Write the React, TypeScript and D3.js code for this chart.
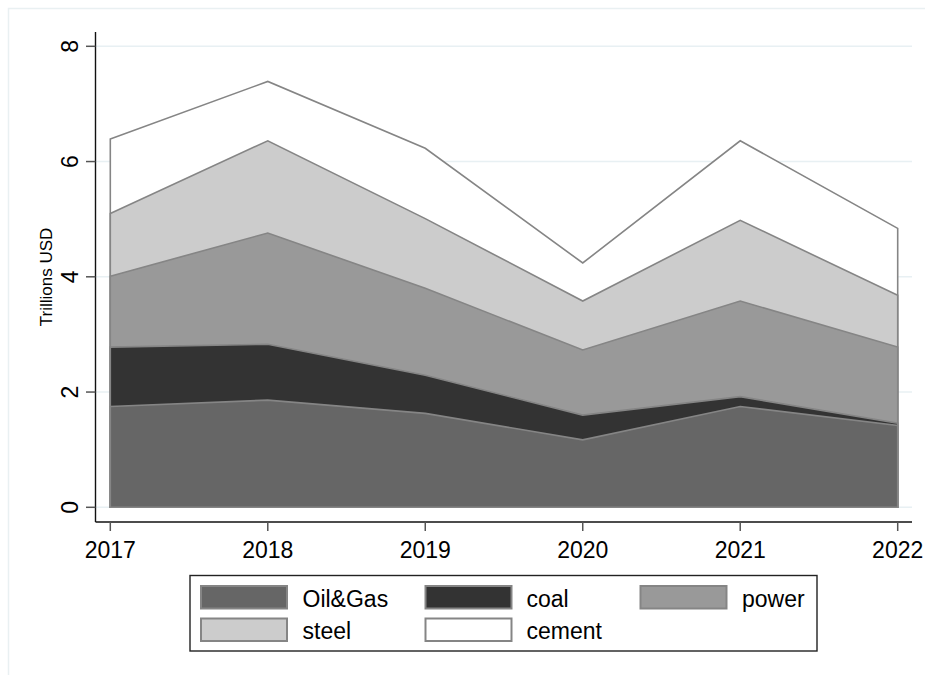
import React from "react";
import * as d3 from "d3";

const years = [2017, 2018, 2019, 2020, 2021, 2022];
const oilGas = [1.75, 1.86, 1.63, 1.17, 1.75, 1.42];
const coal = [1.03, 0.97, 0.66, 0.43, 0.17, 0.04];
const power = [1.23, 1.93, 1.51, 1.13, 1.66, 1.32];
const steel = [1.09, 1.6, 1.21, 0.85, 1.4, 0.9];
const cement = [1.29, 1.03, 1.22, 0.66, 1.38, 1.16];

const seriesNames = ["Oil&Gas", "coal", "power", "steel", "cement"];
const seriesValues = [oilGas, coal, power, steel, cement];
const seriesFills = ["#666666", "#333333", "#999999", "#cccccc", "#ffffff"];
const yTicks = [0, 2, 4, 6, 8];
const yTitle = "Trillions USD";

const FONT = "'Liberation Sans', Arial, Helvetica, sans-serif";

export default function App() {
  const x = d3.scaleLinear().domain([2017, 2022]).range([110.3, 897.7]);
  const y = d3.scaleLinear().domain([0, 8]).range([507.3, 46.3]);

  const table = years.map((yr, i) => {
    const row: Record<string, number> = { year: yr };
    seriesNames.forEach((n, k) => (row[n] = seriesValues[k][i]));
    return row;
  });
  const stacked = d3.stack<Record<string, number>>().keys(seriesNames)(table);

  const area = d3
    .area<any>()
    .x((d: any) => x(d.data.year))
    .y0(() => y(0))
    .y1((d: any) => y(d[1]));

  const plotLeft = 95.5;
  const plotRight = 912;
  const axisY = 522;

  const legendCols = [201, 425.5, 640.5];
  const legendLabelX = [302.5, 526.5, 742];
  const legendRows = [586, 618.5];

  return (
    <svg
      width={925}
      height={675}
      style={{ position: "absolute", left: 0, top: 0, background: "#fff" }}
      fontFamily={FONT}
    >
      <rect x={0} y={0} width={925} height={675} fill="#fff" />
      <rect x={8.5} y={8.5} width={1000} height={1000} fill="none" stroke="#e9f0f2" strokeWidth={1.5} />

      {/* gridlines */}
      {yTicks.map((t) => (
        <line key={"g" + t} x1={plotLeft} x2={plotRight} y1={y(t)} y2={y(t)} stroke="#e8f0f3" strokeWidth={1.5} />
      ))}

      {/* stacked areas drawn from total down */}
      {stacked
        .slice()
        .reverse()
        .map((s) => {
          const k = seriesNames.indexOf(s.key);
          return (
            <path
              key={s.key}
              d={area(s as any) + "Z"}
              fill={seriesFills[k]}
              stroke="#858585"
              strokeWidth={1.6}
              strokeLinejoin="miter"
            />
          );
        })}

      {/* axes */}
      <line x1={plotLeft} x2={plotLeft} y1={32} y2={axisY} stroke="#111" strokeWidth={1.4} />
      <line x1={plotLeft} x2={plotRight} y1={axisY} y2={axisY} stroke="#111" strokeWidth={1.4} />

      {yTicks.map((t) => (
        <g key={"yt" + t}>
          <line x1={86} x2={plotLeft} y1={y(t)} y2={y(t)} stroke="#555" strokeWidth={1.5} />
          <text
            transform={`translate(78,${y(t)}) rotate(-90)`}
            textAnchor="middle"
            fontSize={23}
            fill="#000"
          >
            {t}
          </text>
        </g>
      ))}

      {years.map((yr) => (
        <g key={"xt" + yr}>
          <line x1={x(yr)} x2={x(yr)} y1={axisY} y2={531} stroke="#555" strokeWidth={1.5} />
          <text x={x(yr)} y={557.5} textAnchor="middle" fontSize={23} fill="#000">
            {yr}
          </text>
        </g>
      ))}

      <text transform={`translate(52,277) rotate(-90)`} textAnchor="middle" fontSize={17} fill="#000">
        {yTitle}
      </text>

      {/* legend */}
      <rect x={190} y={575.5} width={627} height={75.5} fill="#fff" stroke="#222" strokeWidth={1.4} />
      {seriesNames.map((n, k) => {
        const col = k % 3;
        const row = Math.floor(k / 3);
        return (
          <g key={"lg" + n}>
            <rect
              x={legendCols[col]}
              y={legendRows[row]}
              width={86}
              height={22.5}
              fill={seriesFills[k]}
              stroke="#858585"
              strokeWidth={2}
            />
            <text x={legendLabelX[col]} y={legendRows[row] + 20.5} fontSize={23} fill="#000">
              {n}
            </text>
          </g>
        );
      })}
    </svg>
  );
}
